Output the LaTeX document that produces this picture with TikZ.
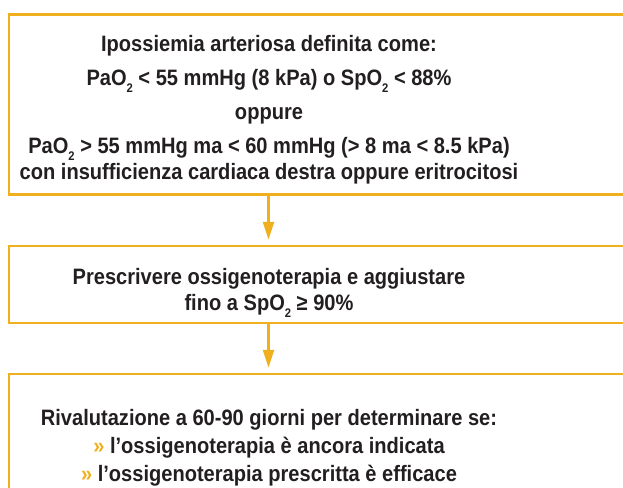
\documentclass[tikz,border=0pt]{standalone}
\usepackage{fontspec}
\setmainfont{Liberation Sans}
\newfontfamily\flowfont[FakeStretch=0.9]{Liberation Sans}
\usetikzlibrary{positioning,arrows.meta}
\definecolor{gold}{RGB}{240,176,30}
\definecolor{ink}{RGB}{35,31,32}
\newcommand{\gbul}{{\color{gold}»}\ }
\newcommand{\subtwo}{\raisebox{-7pt}{\fontsize{12.5}{12}\selectfont 2}}
\begin{document}
\begin{tikzpicture}[->,>={Triangle[length=18pt,width=11pt]},thick]
\tikzstyle{flowbox}=[draw=gold,line width=2.6pt,outer sep=0pt,inner xsep=0pt,inner ysep=0pt,text=ink,font=\flowfont\bfseries]
\tikzstyle{flow}=[draw=gold,line width=2.6pt,shorten >=6pt]
\useasboundingbox (0,0) rectangle (623pt,-487pt);
\clip (0,0) rectangle (623pt,-487pt);
\coordinate (axis) at (268.5pt,0);
\node[flowbox,minimum height=180pt,anchor=north west]	(hypox)	at (9pt,-14.5pt)
	{\parbox{520pt}{\centering\fontsize{22.3}{34}\selectfont\vspace*{10pt}
	Ipossiemia arteriosa definita come:\\
	PaO\subtwo{} < 55 mmHg (8 kPa) o SpO\subtwo{} < 88\%\\
	oppure\\
	PaO\subtwo{} > 55 mmHg ma < 60 mmHg (> 8 ma < 8.5 kPa)\\[-8pt]
	con insufficienza cardiaca destra oppure eritrocitosi}\hspace*{116pt}};
\node[flowbox,minimum height=77pt]	(oxy)	[below right=51.3pt and 0pt of hypox.south west]
	{\parbox{520pt}{\centering\fontsize{22.3}{26}\selectfont\vspace*{18pt}
	Prescrivere ossigenoterapia e aggiustare\\
	fino a SpO\subtwo{} ≥ 90\%}\hspace*{116pt}};
\node[flowbox,minimum height=136pt]	(recheck)	[below right=51pt and 0pt of oxy.south west]
	{\parbox{520pt}{\centering\fontsize{22.3}{28}\selectfont\vspace*{12pt}
	Rivalutazione a 60-90 giorni per determinare se:\\
	\gbul l’ossigenoterapia è ancora indicata\\
	\gbul l’ossigenoterapia prescritta è efficace}\hspace*{116pt}};
\path	(hypox.south -| axis)	edge[flow]	(oxy.north -| axis)
	(oxy.south -| axis)	edge[flow]	(recheck.north -| axis);
\end{tikzpicture}
\end{document}
